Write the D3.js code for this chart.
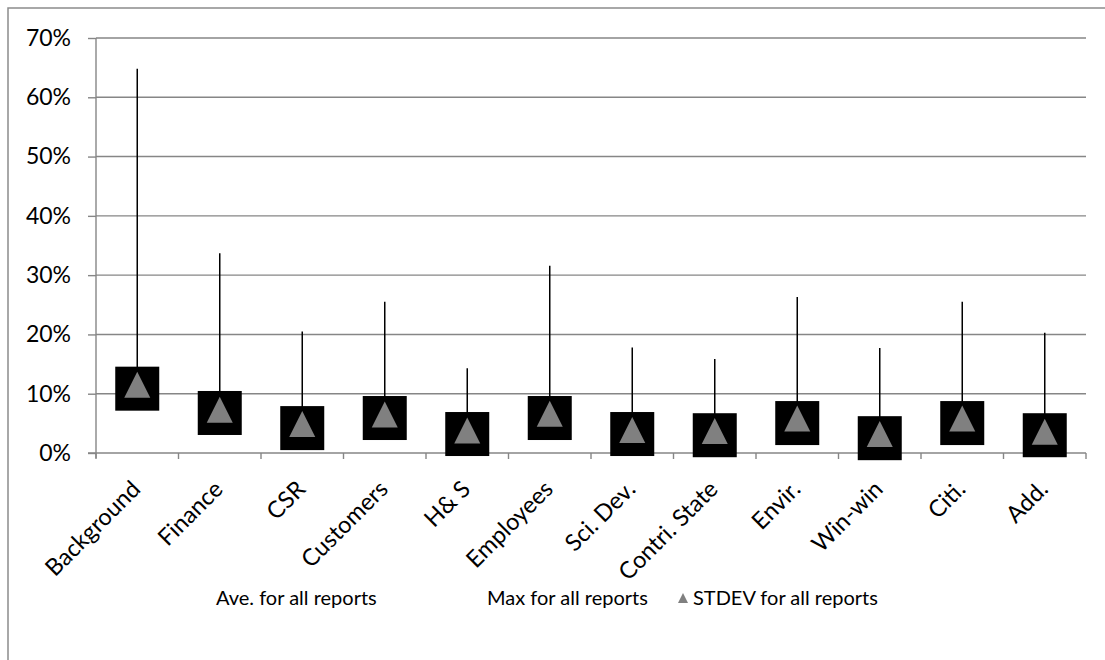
<!DOCTYPE html>
<html>
<head>
<meta charset="utf-8">
<script src="https://cdn.jsdelivr.net/npm/d3@7"></script>
<style>
  html, body { margin: 0; padding: 0; background: #fff; }
  svg { display: block; font-family: Lato, "Open Sans", sans-serif; }
</style>
</head>
<body>
<svg id="chart" width="1105" height="660"></svg>
<script>
// Report sections
const categories = ["Background", "Finance", "CSR", "Customers", "H& S", "Employees",
  "Sci. Dev.", "Contri. State", "Envir.", "Win-win", "Citi.", "Add."];
// Share of report content (%)
const aveValues   = [10.85, 6.75, 4.2, 5.9, 3.2, 5.9, 3.2, 3.0, 5.05, 2.5, 5.05, 3.0];
const maxValues   = [64.8, 33.7, 20.5, 25.5, 14.3, 31.6, 17.8, 15.85, 26.3, 17.7, 25.5, 20.3];
const stdevValues = [11.5, 7.3, 4.9, 6.5, 3.8, 6.6, 3.9, 3.7, 5.8, 3.2, 5.8, 3.6];
const yTicks = [0, 10, 20, 30, 40, 50, 60, 70];
const legendLabels = ["Ave. for all reports", "Max for all reports", "STDEV for all reports"];

const svg = d3.select("#chart");
const plot = { left: 96, right: 1086, top: 38, bottom: 453 };
const gridColor = "#868686";

// Chart frame
svg.append("path")
  .attr("d", "M8,662 L8,8 L1107,8")
  .attr("fill", "none").attr("stroke", "#8c8c8c").attr("stroke-width", 1.5);

const x = d3.scaleBand().domain(categories).range([plot.left, plot.right]).padding(0);
const y = d3.scaleLinear().domain([0, 70]).range([plot.bottom, plot.top]);

// Horizontal gridlines
svg.append("g").selectAll("line").data(yTicks.filter(d => d > 0)).join("line")
  .attr("x1", plot.left).attr("x2", plot.right)
  .attr("y1", d => y(d)).attr("y2", d => y(d))
  .attr("stroke", gridColor).attr("stroke-width", 1.4);

// Y axis
const yAxis = svg.append("g").attr("transform", `translate(${plot.left},0)`)
  .call(d3.axisLeft(y).tickValues(yTicks).tickSize(8).tickPadding(17)
    .tickFormat(d => d + "%"));
yAxis.select(".domain").attr("stroke", gridColor).attr("stroke-width", 1.4)
  .attr("d", `M0,${plot.top}V${plot.bottom + 5}`);
yAxis.selectAll(".tick line").attr("stroke", gridColor).attr("stroke-width", 1.4);
yAxis.selectAll(".tick text").attr("font-size", 23).attr("fill", "#000")
  .attr("font-family", "Lato, sans-serif");

// X axis: boundary ticks between categories
const xAxisG = svg.append("g");
xAxisG.append("line")
  .attr("x1", plot.left - 8).attr("x2", plot.right)
  .attr("y1", plot.bottom).attr("y2", plot.bottom)
  .attr("stroke", gridColor).attr("stroke-width", 1.4);
const bounds = categories.map(c => x(c)).concat([x(categories[categories.length - 1]) + x.bandwidth()]);
xAxisG.selectAll("line.tk").data(bounds).join("line").attr("class", "tk")
  .attr("x1", d => d).attr("x2", d => d)
  .attr("y1", plot.bottom).attr("y2", plot.bottom + 6)
  .attr("stroke", gridColor).attr("stroke-width", 1.4);

// Rotated category labels
xAxisG.selectAll("text").data(categories).join("text")
  .attr("transform", d => `translate(${x(d) + x.bandwidth() / 2 - 7},${plot.bottom + 26}) rotate(-45)`)
  .attr("text-anchor", "end")
  .attr("dy", "0.7em")
  .attr("font-size", 23.5)
  .text(d => d);

const cx = d => x(d) + x.bandwidth() / 2;

// High-low lines from average up to maximum
svg.append("g").selectAll("line").data(categories).join("line")
  .attr("x1", cx).attr("x2", cx)
  .attr("y1", (d, i) => y(aveValues[i]))
  .attr("y2", (d, i) => y(maxValues[i]))
  .attr("stroke", "#000").attr("stroke-width", 1.5);

// Average markers (black squares)
const sq = 44;
svg.append("g").selectAll("rect").data(categories).join("rect")
  .attr("x", d => cx(d) - sq / 2)
  .attr("y", (d, i) => y(aveValues[i]) - sq / 2)
  .attr("width", sq).attr("height", sq)
  .attr("fill", "#000");

// STDEV markers (gray triangles centred on their bounding box)
const tri = (w, h) => `M0,${-h / 2}L${w / 2},${h / 2}L${-w / 2},${h / 2}Z`;
svg.append("g").selectAll("path").data(categories).join("path")
  .attr("transform", (d, i) => `translate(${cx(d)},${y(stdevValues[i])})`)
  .attr("d", tri(26, 26))
  .attr("fill", "#808080");

// Legend
const legend = svg.append("g").attr("font-size", 20).attr("fill", "#000");
const legendX = [216, 487, 693];
legend.selectAll("text").data(legendLabels).join("text")
  .attr("x", (d, i) => legendX[i]).attr("y", 605)
  .text(d => d);
legend.append("path")
  .attr("transform", "translate(683,598)")
  .attr("d", tri(10, 10))
  .attr("fill", "#808080");
</script>
</body>
</html>
